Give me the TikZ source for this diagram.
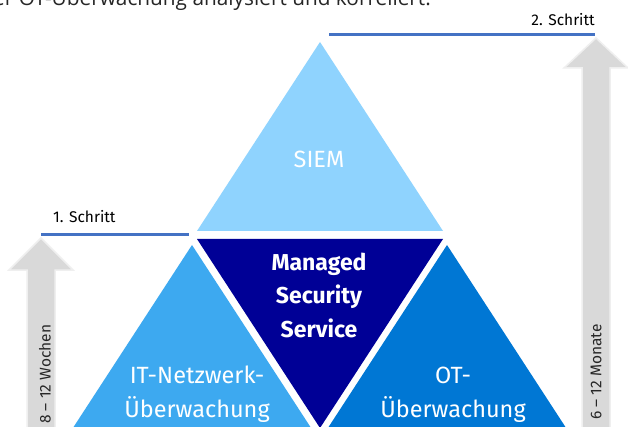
\documentclass[tikz,border=0pt]{standalone}
\usepackage{fontspec}
\setmainfont{Fira Sans}
\newfontfamily\topfont{Open Sans}
\definecolor{siemc}{HTML}{8FD3FE}
\definecolor{itc}{HTML}{3DA9F0}
\definecolor{msc}{HTML}{000096}
\definecolor{otc}{HTML}{0077D4}
\definecolor{linec}{HTML}{4472C4}
\definecolor{arrc}{HTML}{D9D9D9}
\definecolor{arrb}{HTML}{EFEFEF}
\definecolor{txtc}{HTML}{262626}
\tikzset{
  lbl/.style={text=white, align=center, font=\fontsize{23.5}{34}\selectfont, inner sep=0pt},
  steplbl/.style={text=black, font=\fontsize{15.5}{18}\selectfont, inner sep=0pt},
  stepline/.style={draw=linec, line width=3pt},
  greyarrow/.style={fill=arrc, draw=arrb, line width=1.5pt, line join=miter},
  arrlbl/.style={text=txtc, font=\fontsize{15.5}{18}\selectfont, inner sep=0pt, rotate=90}
}
\begin{document}
\begin{tikzpicture}[x=1pt,y=-1pt]
\useasboundingbox (0,0) rectangle (628,427);
\clip (0,0) rectangle (628,427);
\fill[white] (0,0) rectangle (628,427);
% top clipped text
\node[anchor=base east, inner sep=0pt, text=txtc, font=\topfont\fontsize{20.8}{24}\selectfont] (toptext) at (431,6) {der OT-Überwachung analysiert und korreliert.};
% grey arrows
\draw[greyarrow] (27,440) -- (27,270) -- (9,270) -- (41,238) -- (73,270) -- (55,270) -- (55,440) -- cycle;
\draw[greyarrow] (582,440) -- (582,68) -- (564,68) -- (596,38) -- (628,68) -- (610,68) -- (610,440) -- cycle;
\node[arrlbl, anchor=west] (wochen) at (45,424) {8 – 12 Wochen};
\node[arrlbl, anchor=west] (monate) at (596,420) {6 – 12 Monate};
% triangles
\fill[siemc] (320,42) -- (443,231) -- (197,231) -- cycle;
\fill[msc] (197,239) -- (443,239) -- (320,428) -- cycle;
\fill[itc] (192,245) -- (315,434) -- (69,434) -- cycle;
\fill[otc] (447,245) -- (570,434) -- (324,434) -- cycle;
\node[lbl, anchor=base] (siem) at (319,168) {SIEM};
\node[lbl, font=\bfseries\fontsize{23}{33.5}\selectfont, anchor=base] (ms) at (319,337) {Managed\\Security\\Service};
\node[lbl, anchor=base] (it) at (197,417) {IT-Netzwerk-\\Überwachung};
\node[lbl, anchor=base] (ot) at (453,417) {OT-\\Überwachung};
% steps
\coordinate (s1a) at (41,234.5);
\coordinate (s1b) at (189,234.5);
\draw[stepline] (s1a) -- (s1b);
\node[steplbl, anchor=base west] (step1) at (53,223) {1. Schritt};
\coordinate (s2a) at (329,34.5);
\coordinate (s2b) at (595,34.5);
\draw[stepline] (s2a) -- (s2b);
\node[steplbl, anchor=base east] (step2) at (595,26) {2. Schritt};
\end{tikzpicture}
\end{document}
